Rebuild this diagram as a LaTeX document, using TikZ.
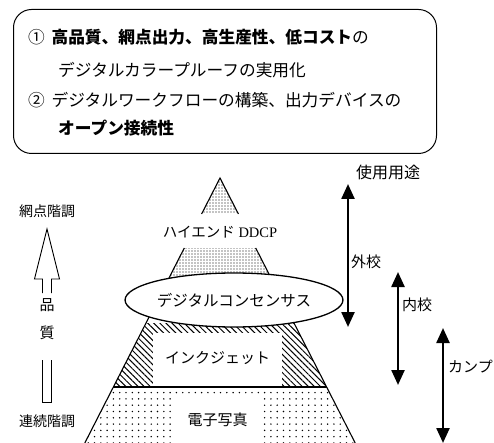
\documentclass[tikz,border=0pt]{standalone}
\usepackage{fontspec}
\setmainfont{Liberation Serif}
\newfontfamily\jp{Noto Sans CJK JP}
\usetikzlibrary{arrows.meta,patterns.meta,shapes.geometric}
\begin{document}
\begin{tikzpicture}[x=1pt,y=-1pt,
  jtxt/.style={font=\jp\fontsize{15}{15}\selectfont, inner sep=0pt},
  boxtxt/.style={font=\jp\fontsize{16.7}{16.7}\selectfont, inner sep=0pt, anchor=west},
  dense/.style={pattern={Dots[distance=3pt,radius=0.6pt]}},
  sparse/.style={pattern={Dots[distance=6.3pt,radius=0.8pt]}},
  hatch/.style={pattern={Lines[angle=-45,distance=4.3pt,line width=1pt]}},
  edge/.style={line width=1.1pt},
  dbl/.style={line width=2.4pt,{Triangle[width=13pt,length=15pt]}-{Triangle[width=13pt,length=15pt]}},
  hollow/.style={line width=0.9pt, line join=miter}]
\useasboundingbox (0,0) rectangle (494,443);
% top box
\node[draw, line width=1pt, rounded corners=18pt, minimum width=423pt, minimum height=144pt, anchor=north west] (box) at (13,9) {};
\node[boxtxt] (l1) at (28,37) {①\hspace{0.4em}{\bfseries 高品質、網点出力、高生産性、低コスト}の};
\node[boxtxt] (l2) at (58,70) {デジタルカラープルーフの実用化};
\node[boxtxt] (l3) at (28,100) {②\hspace{0.4em}デジタルワークフローの構築、出力デバイスの};
\node[boxtxt] (l4) at (58,128) {\bfseries オープン接続性};
% pyramid
\coordinate (apex) at (220,178);
\coordinate (t1l) at (201.6,214); \coordinate (t1r) at (238.4,214);
\coordinate (t2l) at (184.3,248); \coordinate (t2r) at (255.7,248);
\coordinate (t3l) at (161.3,293); \coordinate (t3r) at (278.7,293);
\coordinate (hl) at (146,323);    \coordinate (hr) at (294,323);
\coordinate (ml) at (113.4,387);  \coordinate (mr) at (326.6,387);
\coordinate (bl) at (84.8,443);   \coordinate (br) at (355.2,443);
\fill[dense] (apex) -- (t1r) -- (t1l) -- cycle;
\fill[dense] (t2l) -- (t2r) -- (t3r) -- (t3l) -- cycle;
\fill[hatch] (hl) -- (hr) -- (mr) -- (ml) -- cycle;
\fill[sparse] (ml) -- (mr) -- (br) -- (bl) -- cycle;
\node[fill=white, minimum width=129pt, minimum height=54pt, inner sep=0pt] (ijbox) at (217.5,360) {};
\node[jtxt] (ij) at (217.5,358) {インクジェット};
\node[fill=white, minimum width=91pt, minimum height=45pt, inner sep=0pt] (dsbox) at (217.5,420.5) {};
\node[jtxt] (ds) at (217.5,420) {電子写真};
\draw[edge] (t1l) -- (apex) -- (t1r);
\draw[edge] (t2l) -- (bl);
\draw[edge] (t2r) -- (br);
\draw[edge] (ml) -- (mr);
\node[jtxt, font=\fontsize{14.5}{14.5}\selectfont] (ddcp) at (220,232) {{\jp ハイエンド} DDCP};
\node[ellipse, draw, line width=1.3pt, fill=white, minimum width=196pt, minimum height=54pt, inner sep=0pt, font=\jp\fontsize{15.5}{15.5}\selectfont] (cons) at (234,300) {デジタルコンセンサス};
% left hollow arrow
\coordinate (hs1) at (42.5,293); \coordinate (hs2) at (42.5,279); \coordinate (hh1) at (34.5,279);
\coordinate (htip) at (47,229);
\coordinate (hh2) at (59.5,279); \coordinate (hs3) at (51.5,279); \coordinate (hs4) at (51.5,293);
\draw[hollow] (hs1) -- (hs2) -- (hh1) -- (htip) -- (hh2) -- (hs3) -- (hs4);
\coordinate (ls1) at (42.5,360); \coordinate (ls2) at (42.5,402); \coordinate (ls3) at (51.5,402); \coordinate (ls4) at (51.5,360);
\draw[hollow] (ls1) -- (ls2) -- (ls3) -- (ls4);
\node[jtxt, font=\jp\fontsize{14}{14}\selectfont] (amiten) at (47,211) {網点階調};
\node[jtxt] (hin) at (47,305) {品};
\node[jtxt] (shitsu) at (47,333) {質};
\node[jtxt, font=\jp\fontsize{14}{14}\selectfont] (renzoku) at (47,421) {連続階調};
% right arrows
\node[jtxt, font=\jp\fontsize{16}{16}\selectfont] (yoto) at (388,172) {使用用途};
\coordinate (o1) at (348,184); \coordinate (o2) at (348,327);
\draw[dbl] (o1) -- (o2);
\node[jtxt, anchor=west] (gaiko) at (351,262) {外校};
\coordinate (n1) at (398,272); \coordinate (n2) at (398,385);
\draw[dbl] (n1) -- (n2);
\node[jtxt, anchor=west] (naiko) at (402,305) {内校};
\coordinate (k1) at (443,328); \coordinate (k2) at (443,443);
\draw[dbl] (k1) -- (k2);
\node[jtxt, anchor=west] (kanpu) at (448,367) {カンプ};
\end{tikzpicture}
\end{document}
